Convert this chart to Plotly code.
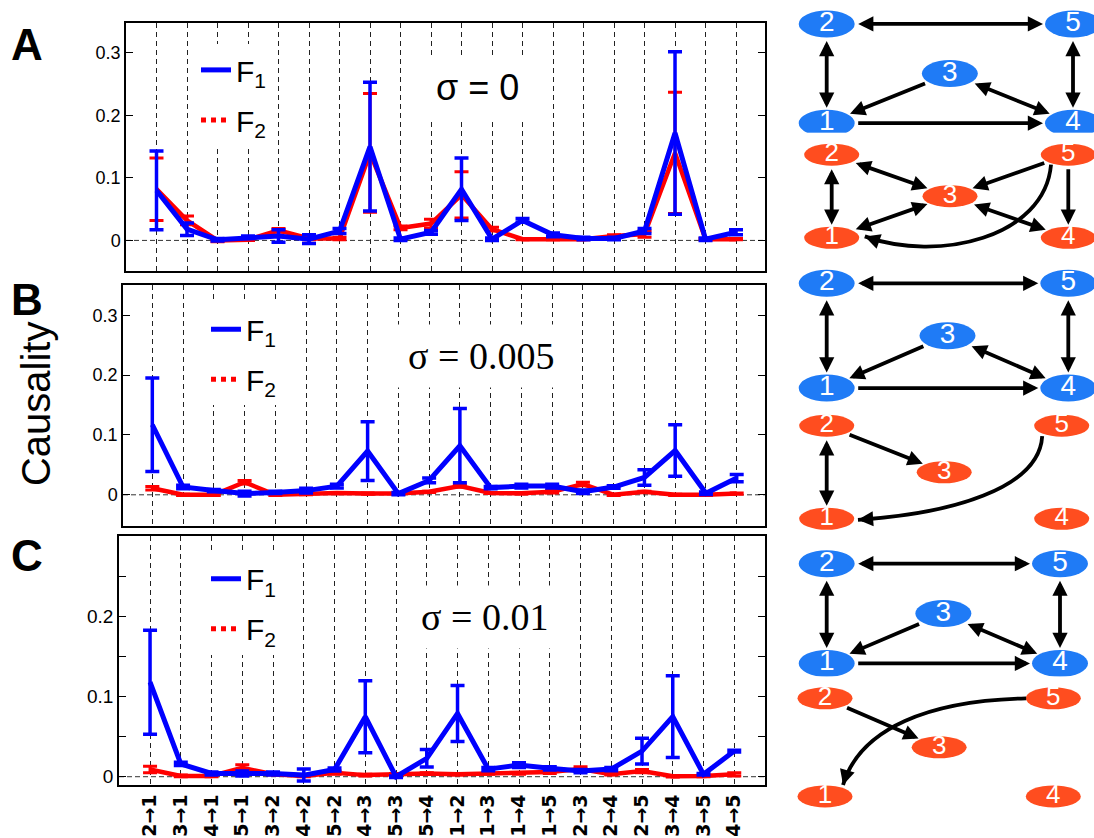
import math
import plotly.graph_objects as go

W, H = 1094, 838

# ---------------- data ----------------
categories = ["2→1", "3→1", "4→1", "5→1", "3→2", "4→2", "5→2", "4→3", "5→3", "5→4",
              "1→2", "1→3", "1→4", "1→5", "2→3", "2→4", "2→5", "3→4", "3→5", "4→5"]

# Panel A (sigma = 0)
a_f1 = [0.080, 0.018, 0.001, 0.005, 0.007, 0.002, 0.015, 0.150, 0.002, 0.013,
        0.082, 0.002, 0.032, 0.009, 0.003, 0.003, 0.015, 0.172, 0.002, 0.013]
a_f1_err = [0.063, 0.010, 0.002, 0.002, 0.010, 0.007, 0.004, 0.103, 0.002, 0.003,
            0.050, 0.002, 0.003, 0.003, 0.002, 0.002, 0.004, 0.130, 0.002, 0.004]
a_f2 = [0.082, 0.032, 0.000, 0.001, 0.016, 0.003, 0.003, 0.140, 0.020, 0.027,
        0.073, 0.018, 0.002, 0.002, 0.002, 0.007, 0.010, 0.140, 0.002, 0.002]
a_f2_err = [0.050, 0.007, 0.002, 0.001, 0.003, 0.002, 0.002, 0.095, 0.003, 0.007,
            0.037, 0.003, 0.001, 0.001, 0.001, 0.002, 0.005, 0.097, 0.001, 0.001]

# Panel B (sigma = 0.005)
b_f1 = [0.117, 0.013, 0.007, 0.002, 0.004, 0.007, 0.0145, 0.073, 0.002, 0.024,
        0.082, 0.012, 0.0145, 0.0145, 0.005, 0.013, 0.029, 0.074, 0.0025, 0.028]
b_f1_err = [0.078, 0.003, 0.002, 0.004, 0.002, 0.004, 0.003, 0.049, 0.002, 0.004,
            0.062, 0.002, 0.003, 0.003, 0.003, 0.002, 0.013, 0.043, 0.002, 0.006]
b_f2 = [0.011, 0.000, 0.000, 0.021, 0.000, 0.001, 0.003, 0.002, 0.002, 0.005,
        0.0145, 0.003, 0.0025, 0.005, 0.018, 0.000, 0.005, 0.000, 0.000, 0.002]
b_f2_err = [0.003, 0.001, 0.001, 0.003, 0.001, 0.001, 0.001, 0.001, 0.001, 0.001,
            0.002, 0.001, 0.001, 0.002, 0.003, 0.001, 0.001, 0.001, 0.001, 0.001]

# Panel C (sigma = 0.01)
c_f1 = [0.118, 0.016, 0.004, 0.004, 0.004, 0.002, 0.009, 0.075, 0.000, 0.023,
        0.079, 0.0095, 0.0145, 0.0105, 0.007, 0.0095, 0.032, 0.075, 0.003, 0.032]
c_f1_err = [0.065, 0.002, 0.002, 0.003, 0.002, 0.0075, 0.002, 0.045, 0.001, 0.011,
            0.035, 0.002, 0.003, 0.002, 0.002, 0.002, 0.016, 0.051, 0.001, 0.001]
c_f2 = [0.009, 0.001, 0.001, 0.011, 0.003, 0.001, 0.005, 0.002, 0.003, 0.004,
        0.003, 0.004, 0.004, 0.006, 0.0095, 0.003, 0.007, 0.0005, 0.001, 0.003]
c_f2_err = [0.004, 0.001, 0.001, 0.004, 0.001, 0.001, 0.002, 0.001, 0.001, 0.001,
            0.001, 0.001, 0.001, 0.002, 0.003, 0.001, 0.002, 0.001, 0.001, 0.002]

sigma_labels = ["σ = 0", "σ = 0.005", "σ = 0.01"]
panel_letters = ["A", "B", "C"]

# network graphs (node layout in unit coordinates)
node_labels = ["1", "2", "3", "4", "5"]
node_x = [0.0, 0.0, 0.5, 1.0, 1.0]
node_y = [0.0, 1.0, 0.5, 0.0, 1.0]
# (source, target, number of heads)
blue_edges = [(2, 5, 2), (2, 1, 2), (5, 4, 2), (3, 1, 1), (3, 4, 2), (1, 4, 1)]
red_edges_a = [(2, 1, 2), (2, 3, 2), (5, 3, 1), (1, 3, 2), (3, 4, 2), (5, 4, 1)]
red_edges_b = [(2, 1, 2), (2, 3, 1)]
red_edges_c = [(2, 3, 1)]
# curved link 5 -> 1 (cubic bezier points in node-layout units)
red_curve_a = [(0.927, 0.88), (0.90, 0.0), (0.45, -0.30), (0.14, 0.016)]
red_curve_b = [(0.917, 0.888), (0.904, 0.32), (0.525, 0.054), (0.133, -0.011)]
red_curve_c = [(0.881, 1.0), (0.46, 0.98), (0.153, 0.70), (0.079, 0.116)]

# ---------------- styling ----------------
FT = "Liberation Sans, Arial, Helvetica, sans-serif"
FTS = "Liberation Serif, Times New Roman, serif"
BLUE = "#0000FF"
RED = "#FF0000"
NODE_BLUE = "#1F7BF6"
NODE_RED = "#FF4D1F"

fig = go.Figure()
layout = dict(width=W, height=H, autosize=False, margin=dict(l=0, r=0, t=0, b=0),
              paper_bgcolor="white", plot_bgcolor="white", showlegend=True)
shapes = []
annotations = []

panel_specs = [
    ("", a_f1, a_f1_err, a_f2, a_f2_err, (126, 765), (23, 272), [-1.0, 19.95], [-0.0495, 0.348],
     "legend", (196, 44), [0, 0.1, 0.2, 0.3], None, 18),
    ("2", b_f1, b_f1_err, b_f2, b_f2_err, (123, 765), (286, 527), [-0.953, 19.92], [-0.0517, 0.35],
     "legend2", (206, 304), [0, 0.1, 0.2, 0.3], None, 18),
    ("3", c_f1, c_f1_err, c_f2, c_f2_err, (119, 765), (537, 787), [-1.01, 20.0], [-0.0105, 0.301],
     "legend3", (206, 554), [0, 0.1, 0.2], [0.05, 0.15, 0.25], 19),
]
sigma_pos = [(478, 88, FT, 36), (481, 357, FTS, 38), (485, 618, FTS, 38)]
letter_pos = [(27, 45), (27, 300), (27, 557)]

for i, (sfx, f1, e1, f2, e2, xd, yd, xr, yr, leg, legpos, tv, mtv, tfs) in enumerate(panel_specs):
    xa, ya = "x" + sfx, "y" + sfx
    fig.add_trace(go.Scatter(x=categories, y=f2, mode="lines", line=dict(color=RED, width=4.5),
                             error_y=dict(type="data", array=e2, color=RED, thickness=3, width=7),
                             xaxis=xa, yaxis=ya, showlegend=False, hoverinfo="skip"))
    fig.add_trace(go.Scatter(x=categories, y=f1, mode="lines", line=dict(color=BLUE, width=5),
                             error_y=dict(type="data", array=e1, color=BLUE, thickness=3.5, width=7),
                             xaxis=xa, yaxis=ya, showlegend=False, hoverinfo="skip"))
    fig.add_trace(go.Scatter(x=[None], y=[None], mode="lines", line=dict(color=BLUE, width=5),
                             name="F<sub>1</sub>", legend=leg, legendgroup=f"f1_{i}",
                             xaxis=xa, yaxis=ya))
    fig.add_trace(go.Scatter(x=[None], y=[None], mode="lines", line=dict(color=RED, width=5, dash="dot"),
                             name="F<sub>2</sub>", legend=leg, legendgroup=f"f2_{i}",
                             xaxis=xa, yaxis=ya))
    layout["xaxis" + sfx] = dict(
        domain=[xd[0] / W, xd[1] / W], range=xr, type="category", categoryorder="array",
        categoryarray=categories, anchor=ya, showline=True, linecolor="black", linewidth=1.5,
        mirror=True, showgrid=True, gridcolor="#222", gridwidth=1, griddash="5px,4px",
        ticks="", showticklabels=(i == 2), tickangle=-90,
        tickfont=dict(size=19, family="DejaVu Sans, " + FT, color="black", weight="bold"),
        zeroline=False, fixedrange=True)
    yax = dict(
        domain=[1 - yd[1] / H, 1 - yd[0] / H], range=yr, anchor=xa, tickvals=tv,
        ticktext=[("0" if v == 0 else f"{v:.1f}") for v in tv],
        ticks="inside", ticklen=7, tickwidth=1.2, tickcolor="black", showline=True,
        linecolor="black", linewidth=1.5, mirror="ticks", showgrid=False, zeroline=False,
        tickfont=dict(size=tfs, family=FT, color="black"), fixedrange=True)
    if mtv is not None:
        yax["minor"] = dict(tickvals=mtv, ticks="inside", ticklen=7, tickwidth=1.2,
                            tickcolor="black", showgrid=False)
    layout["yaxis" + sfx] = yax
    layout[leg] = dict(x=legpos[0] / W, y=1 - legpos[1] / H, xanchor="left", yanchor="top",
                       bgcolor="white", borderwidth=0, traceorder="grouped", tracegroupgap=8,
                       font=dict(size=30, family=FT, color="black"))
    shapes.append(dict(type="line", xref=xa + " domain", yref=ya, x0=0, x1=1, y0=0, y1=0,
                       line=dict(color="#333", width=1, dash="5px,3px"), layer="below"))
    sx, sy, sf, ss = sigma_pos[i]
    annotations.append(dict(x=sx / W, y=1 - sy / H, xref="paper", yref="paper", text=sigma_labels[i],
                            showarrow=False, font=dict(size=ss, family=sf, color="black"),
                            bgcolor="white", borderpad=10, xanchor="center", yanchor="middle"))
    lx, ly = letter_pos[i]
    annotations.append(dict(x=lx / W, y=1 - ly / H, xref="paper", yref="paper", text=panel_letters[i],
                            showarrow=False, font=dict(size=44, family=FT, color="black", weight="bold"),
                            xanchor="center", yanchor="middle"))

annotations.append(dict(x=36 / W, y=1 - 405 / H, xref="paper", yref="paper", text="Causality",
                        showarrow=False, textangle=-90,
                        font=dict(size=40, family="Liberation Sans Narrow, " + FT, color="black"),
                        xanchor="center", yanchor="middle"))

# ---------------- networks ----------------
nets = [
    # x of unit 0, x of unit 1, y(px) of unit 1, y(px) of unit 0, color, half axes, font, edges, curve
    (826.7, 1073.0, 24.0, 123.5, NODE_BLUE, 28, 13.5, 28, blue_edges, None),
    (831.7, 1068.3, 155.0, 238.3, NODE_RED, 27.5, 11, 26, red_edges_a, red_curve_a),
    (826.7, 1068.3, 284.0, 389.0, NODE_BLUE, 28, 13.5, 28, blue_edges, None),
    (826.7, 1061.7, 426.7, 520.0, NODE_RED, 27.5, 11, 26, red_edges_b, red_curve_b),
    (826.7, 1060.0, 565.0, 665.0, NODE_BLUE, 28, 13.5, 28, blue_edges, None),
    (825.0, 1053.3, 700.0, 798.3, NODE_RED, 27.5, 11, 26, red_edges_c, red_curve_c),
]

def ell_r(dx, dy, a, b):
    ang = math.atan2(dy, dx)
    return a * b / math.sqrt((b * math.cos(ang)) ** 2 + (a * math.sin(ang)) ** 2)

for k, (px0, px1, pytop, pybot, col, ea, eb, nfs, edges, curve) in enumerate(nets):
    n = 4 + k
    xa, ya = f"x{n}", f"y{n}"
    sxp = px1 - px0
    syp = pybot - pytop
    d0, d1 = px0 - 42, min(px1 + 42, W)
    t0, t1 = pytop - 22, pybot + 24
    layout[f"xaxis{n}"] = dict(domain=[d0 / W, d1 / W], range=[(d0 - px0) / sxp, (d1 - px0) / sxp],
                               visible=False, anchor=ya, fixedrange=True)
    layout[f"yaxis{n}"] = dict(domain=[1 - t1 / H, 1 - t0 / H],
                               range=[(pybot - t1) / syp, (pybot - t0) / syp],
                               visible=False, anchor=xa, fixedrange=True)
    for j in range(5):
        shapes.append(dict(type="circle", xref=xa, yref=ya, xsizemode="pixel", ysizemode="pixel",
                           xanchor=node_x[j], yanchor=node_y[j], x0=-ea, x1=ea, y0=-eb, y1=eb,
                           fillcolor=col, line=dict(width=0), layer="below"))
    fig.add_trace(go.Scatter(x=node_x, y=node_y, mode="text", text=node_labels,
                             textposition="middle center",
                             textfont=dict(color="white", size=nfs, family=FT),
                             xaxis=xa, yaxis=ya, showlegend=False, hoverinfo="skip"))
    for (s, t, heads) in edges:
        xs, ys = node_x[s - 1], node_y[s - 1]
        xt, yt = node_x[t - 1], node_y[t - 1]
        dxp, dyp = (xt - xs) * sxp, (yt - ys) * syp
        r = ell_r(dxp, dyp, ea, eb) + 2
        ann = dict(x=xt, y=yt, ax=xs, ay=ys, xref=xa, yref=ya, axref=xa, ayref=ya, text="",
                   showarrow=True, arrowhead=2, arrowsize=0.8, arrowwidth=3.8, arrowcolor="black",
                   standoff=r, startstandoff=r, arrowside="end")
        if heads == 2:
            ann.update(arrowside="end+start", startarrowhead=2, startarrowsize=0.8)
        annotations.append(ann)
    if curve is not None:
        (x0, y0), (x1, y1), (x2, y2), (x3, y3) = curve
        shapes.append(dict(type="path", xref=xa, yref=ya,
                           path=f"M {x0},{y0} C {x1},{y1} {x2},{y2} {x3},{y3}",
                           line=dict(color="black", width=3.8), fillcolor="rgba(0,0,0,0)",
                           layer="above"))
        tdx, tdy = (x2 - x3) * sxp, (y2 - y3) * syp
        L = math.hypot(tdx, tdy)
        tt_ = 12 / L
        annotations.append(dict(x=x3, y=y3, ax=x3 + tt_ * (x2 - x3), ay=y3 + tt_ * (y2 - y3),
                                xref=xa, yref=ya, axref=xa, ayref=ya, text="", showarrow=True,
                                arrowhead=2, arrowsize=0.8, arrowwidth=3.8, arrowcolor="black",
                                standoff=0))

layout["shapes"] = shapes
layout["annotations"] = annotations
fig.update_layout(**layout)
fig.write_html("out.html")
